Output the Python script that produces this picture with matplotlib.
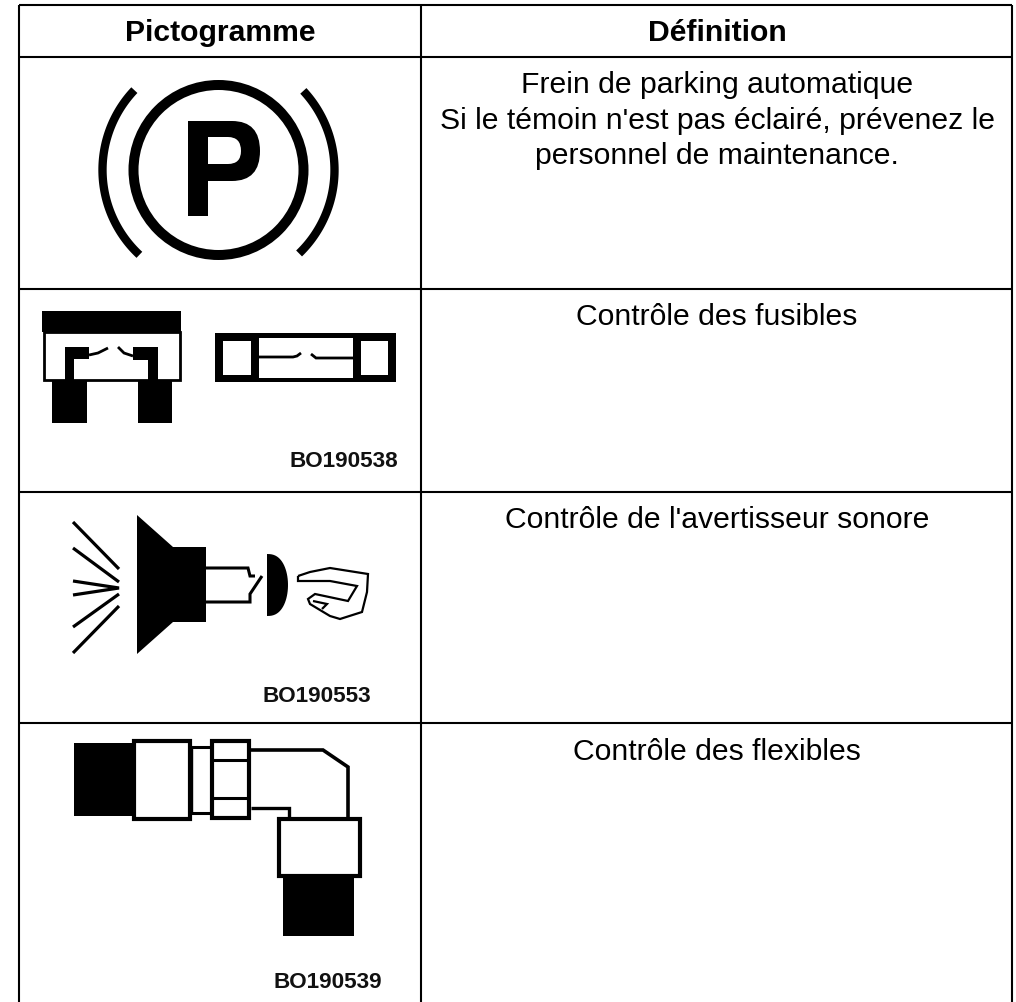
import matplotlib
matplotlib.use("Agg")
import matplotlib.pyplot as plt
from matplotlib.patches import Circle, PathPatch, Polygon, Rectangle
from matplotlib.path import Path
import numpy as np

plt.rcParams["font.family"] = ["Liberation Sans", "DejaVu Sans"]

# Table contents
headers = ["Pictogramme", "Définition"]
definition_lines = [
    "Frein de parking automatique",
    "Si le témoin n'est pas éclairé, prévenez le",
    "personnel de maintenance.",
    "Contrôle des fusibles",
    "Contrôle de l'avertisseur sonore",
    "Contrôle des flexibles",
]
picto_codes = ["BO190538", "BO190553", "BO190539"]

# Table grid and text baselines, in pixels
col_edges = [19, 421, 1012]
row_edges = [6, 58, 290, 493, 724, 1003]
header_x = [220, 717]
header_y = 41
definition_x = 717
definition_y = [93, 129, 164, 325, 528, 760]
code_pos = [(344, 467), (317, 702), (328, 988)]

fig = plt.figure(figsize=(10.16, 10.03), dpi=100)
ax = fig.add_axes([0, 0, 1, 1])
ax.set_xlim(0, 1016)
ax.set_ylim(1003, 0)
ax.axis("off")


def box(x0, y0, x1, y1, fill="black", edge="none", lw=0):
    ax.add_patch(Rectangle((x0, y0), x1 - x0, y1 - y0, facecolor=fill, edgecolor=edge, linewidth=lw, joinstyle="miter"))


def line(points, lw=2.2, closed=False):
    pts = np.array(points)
    if closed:
        pts = np.vstack([pts, pts[0]])
    ax.plot(pts[:, 0], pts[:, 1], color="black", lw=lw, solid_joinstyle="miter", solid_capstyle="butt")


def arc(cx, cy, r, a0, a1, lw):
    t = np.radians(np.linspace(a0, a1, 80))
    ax.plot(cx + r * np.cos(t), cy + r * np.sin(t), color="black", lw=lw, solid_capstyle="butt")


def parking():
    ax.add_patch(Circle((218.5, 171), 85, facecolor="none", edgecolor="black", linewidth=7.2))
    arc(218.5, 171, 116, 133, 223.5, 6)
    arc(218.5, 171, 116, -43, 46, 6)
    verts = [
        (188, 122), (232, 122), (260, 122), (260, 152), (260, 182), (232, 182),
        (208, 182), (208, 217), (188, 217), (188, 122),
        (208, 138), (208, 165), (228, 165), (241, 165), (241, 152), (241, 138),
        (228, 138), (208, 138),
    ]
    codes = [
        Path.MOVETO, Path.LINETO, Path.CURVE3, Path.CURVE3, Path.CURVE3, Path.CURVE3,
        Path.LINETO, Path.LINETO, Path.LINETO, Path.CLOSEPOLY,
        Path.MOVETO, Path.LINETO, Path.LINETO, Path.CURVE3, Path.CURVE3, Path.CURVE3,
        Path.CURVE3, Path.CLOSEPOLY,
    ]
    ax.add_patch(PathPatch(Path(verts, codes), facecolor="black", edgecolor="none"))


def fuses():
    # blade fuse
    box(42, 312, 181, 333)
    box(43.5, 333, 180, 381, fill="white", edge="black", lw=2)
    box(65, 348, 74, 382)
    box(65, 348, 89, 360)
    box(148, 348, 158, 382)
    box(133, 348, 158, 361)
    line([(89, 356), (98, 354), (108, 349)], lw=2)
    line([(133, 357), (124, 354), (118, 348)], lw=2)
    box(52, 382, 87, 424)
    box(138, 382, 172, 424)
    # cartridge fuse
    box(215, 334, 396, 383)
    box(223, 342, 251, 376, fill="white")
    box(259, 339, 353, 379, fill="white")
    box(361, 342, 388, 376, fill="white")
    line([(259, 358), (293, 358), (297, 357), (301, 354)], lw=2)
    line([(311, 355), (316, 359), (353, 359)], lw=2)


def horn():
    ax.add_patch(Polygon([(137, 516), (173, 548), (206, 548), (206, 623), (173, 623), (137, 655)], facecolor="black", edgecolor="none"))
    line([(73, 523), (119, 570)], lw=2.3)
    line([(73, 549), (119, 583)], lw=2.3)
    line([(73, 582), (119, 589), (73, 596)], lw=2.3)
    line([(73, 628), (119, 595)], lw=2.3)
    line([(73, 654), (119, 607)], lw=2.3)
    line([(206, 569), (248, 569), (250, 577), (255, 577)], lw=2.2)
    line([(206, 603), (250, 603), (250, 595), (262, 577)], lw=2.2)
    # push button
    t = np.linspace(-90, 90, 40)
    bx = 267 + 21 * np.cos(np.radians(t)) ** 0.8
    by = 586 + 31 * np.sin(np.radians(t))
    ax.add_patch(Polygon(np.column_stack([bx, by]), facecolor="black", edgecolor="none"))
    # hand
    line([(298, 577), (310, 573), (330, 569), (368, 575), (367, 593), (362, 613), (340, 620),
          (330, 617), (310, 605), (308, 600), (315, 595), (348, 602), (357, 587), (330, 582),
          (298, 582)], lw=1.6, closed=True)
    line([(313, 602), (327, 605), (322, 610)], lw=1.6)


def fitting():
    box(74, 744, 133, 817)
    box(134, 742, 190, 820, fill="white", edge="black", lw=3)
    line([(191, 748), (210, 748)], lw=2.2)
    line([(191, 814), (210, 814)], lw=2.2)
    line([(192, 748), (192, 814)], lw=1)
    box(211.5, 742, 249, 819, fill="white", edge="black", lw=3)
    line([(211, 761), (249, 761)], lw=2.2)
    line([(211, 799), (249, 799)], lw=2.2)
    line([(251, 751), (323, 751), (348, 768), (348, 818)], lw=2.6)
    line([(251, 809), (289, 809), (289, 819)], lw=2.4)
    box(279, 820, 360, 877, fill="white", edge="black", lw=3)
    box(283, 878, 354, 937)


# Grid lines
for x in col_edges:
    ax.plot([x, x], [row_edges[0], row_edges[-1]], color="black", lw=1.5, solid_capstyle="butt")
for y in row_edges[:-1]:
    ax.plot([col_edges[0], col_edges[-1]], [y, y], color="black", lw=1.5, solid_capstyle="butt")

# Header and definitions
for x, txt in zip(header_x, headers):
    ax.text(x, header_y, txt, ha="center", va="baseline", fontsize=21.7, fontweight="bold")
for y, txt in zip(definition_y, definition_lines):
    ax.text(definition_x, y, txt, ha="center", va="baseline", fontsize=21.7)

parking()
fuses()
horn()
fitting()

for (x, y), code in zip(code_pos, picto_codes):
    ax.text(x, y, code, ha="center", va="baseline", fontsize=16.2, fontweight="bold", color="#111111")

fig.savefig("out.png", dpi=100, facecolor="white")
